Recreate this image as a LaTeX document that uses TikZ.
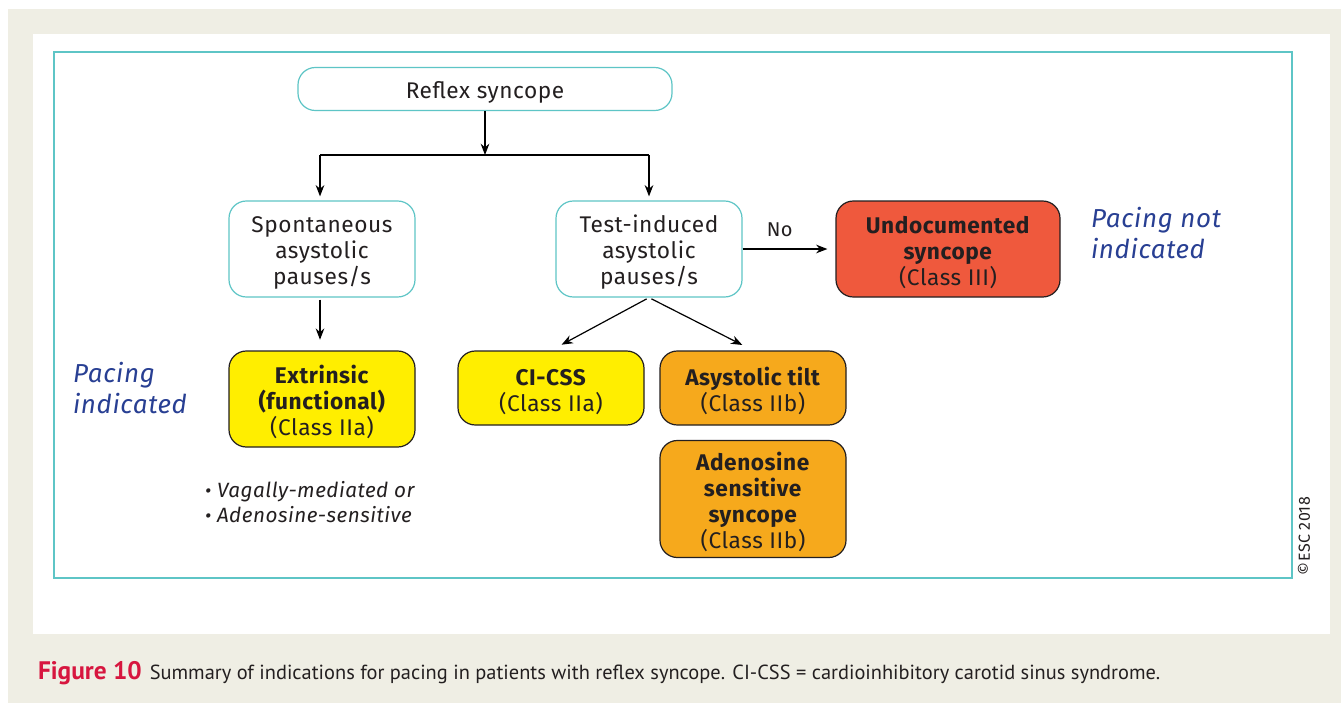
\documentclass[tikz,border=0pt]{standalone}
\usepackage{fontspec}
\setmainfont{Fira Sans}[LetterSpace=2.5]
\newfontfamily\capfont{PT Sans}
\usetikzlibrary{arrows.meta}

\definecolor{pagebeige}{HTML}{EFEEE4}
\definecolor{frameteal}{HTML}{5EC5C6}
\definecolor{classred}{HTML}{EF593D}
\definecolor{classyellow}{HTML}{FFEE00}
\definecolor{classorange}{HTML}{F6A91C}
\definecolor{pacingblue}{HTML}{283F93}
\definecolor{figred}{HTML}{D7163F}
\definecolor{inkgrey}{HTML}{231F20}

% extra room above the first line of a box
\newcommand{\topstrut}{\rule{0pt}{18.5pt}}

\begin{document}
\begin{tikzpicture}[
    x = 0.75pt, y = -0.75pt, % pixel grid of the figure
    > = {Stealth[length=8.5pt,width=6.5pt]}, % arrow head style
    line width = 0.9pt, % line style
    every node/.style={text=inkgrey, font=\fontsize{17}{19.5}\selectfont},
    step box/.style={draw=frameteal, fill=white, rounded corners=13pt,
      align=center, inner sep=0pt, minimum width=139.5pt},
    class box/.style={draw=inkgrey, rounded corners=13pt, align=center,
      inner sep=0pt, minimum width=139.5pt},
    pacing/.style={text=pacingblue, align=left, anchor=west,
      font=\fontsize{19.5}{23}\selectfont\itshape}
  ]

  % Page
  \useasboundingbox (0,0) rectangle (1341,703);
  \fill[pagebeige] (8,9) rectangle (1341,703);
  \fill[white] (33,34) rectangle (1330,634);
  \draw[frameteal, line width=2pt] (54,52) rectangle (1292,578);

  % Nodes
  \node[step box, minimum width=280.5pt, minimum height=32.25pt] (reflex) at (485,89) {\topstrut Reflex syncope};
  \node[step box, minimum height=72pt] (spont) at (322,249) {\topstrut Spontaneous\\asystolic\\pauses/s};
  \node[step box, minimum height=72pt] (test) at (649,249) {\topstrut Test-induced\\asystolic\\pauses/s};
  \node[class box, fill=classred, minimum width=168pt, minimum height=72pt] (undoc) at (948,249)
    {\topstrut\textbf{Undocumented}\\\textbf{syncope}\\(Class III)};
  \node[class box, fill=classyellow, minimum height=72pt] (extr) at (322,399)
    {\topstrut\textbf{Extrinsic}\\\textbf{(functional)}\\(Class IIa)};
  \node[class box, fill=classyellow, minimum height=55.5pt] (cicss) at (551,388)
    {\topstrut\textbf{CI-CSS}\\(Class IIa)};
  \node[class box, fill=classorange, minimum height=55.5pt] (asys) at (753,388)
    {\topstrut\textbf{Asystolic tilt}\\(Class IIb)};
  \node[class box, fill=classorange, minimum height=87.75pt] (adeno) at (753,499)
    {\topstrut\textbf{Adenosine}\\\textbf{sensitive}\\\textbf{syncope}\\(Class IIb)};

  \node[pacing] (notind) at (1086,233) {Pacing not\\indicated};
  \node[pacing] (ind) at (68,388) {Pacing\\indicated};
  \node[anchor=west, align=left, font=\fontsize{15.5}{19}\selectfont\itshape] (bullets) at (200,502)
    {{\Large\textbullet}\ Vagally-mediated or\\{\Large\textbullet}\ Adenosine-sensitive};

  \coordinate (split) at (485,155);
  \coordinate (splitL) at (320,155);
  \coordinate (splitR) at (649,155);

  % Edges
  \draw[->] (reflex) -- (split);
  \draw (splitL) -- (splitR);
  \draw[->, shorten >=3pt] (splitL) -- (spont.north -| splitL);
  \draw[->, shorten >=3pt] (splitR) -- (test);
  \draw[->, shorten >=6pt] (test) -- node[above=5.5pt, pos=0.4, font=\fontsize{15}{17}\selectfont] {No} (undoc);
  \draw[->, shorten <=1.5pt, shorten >=8pt] (spont.south -| splitL) -- (extr.north -| splitL);
  \draw[->, shorten <=2pt, shorten >=9pt] (test.south) -- (cicss.north);
  \draw[->, shorten <=2pt, shorten >=9pt] (test.south) -- (asys.north);

  % Caption and credit
  \node[rotate=90, font=\fontsize{12}{14}\selectfont] (credit) at (1304,536) {\copyright ESC 2018};
  \node[anchor=base west, font=\capfont\fontsize{15.3}{18}\selectfont] (caption) at (33,679)
    {{\color{figred}\fontsize{19}{18}\selectfont\bfseries Figure 10}\hspace{6pt}Summary of indications for pacing in patients with reflex syncope. CI-CSS = cardioinhibitory carotid sinus syndrome.};
\end{tikzpicture}
\end{document}
